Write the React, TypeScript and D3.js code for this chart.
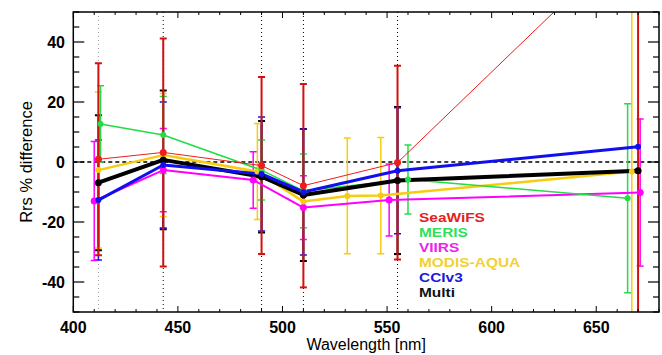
import React from "react";
import * as d3 from "d3";

// ---- data ----
const seawifsWl = [412, 443, 490, 510, 555, 670];
const seawifsMean = [0.9, 3.2, -1.2, -7.9, -0.2, 77];
const seawifsErr = [32, 38, 29.5, 33.9, 32.3, 140];

const merisWl = [413, 443, 490, 510, 560, 665];
const merisMean = [12.7, 9, -2.7, -9.6, -5.8, -12.1];
const merisErr = [12.7, 12.8, 10, 12.3, 11.5, 31.5];

const viirsWl = [410, 443, 486, 510, 551, 671];
const viirsMean = [-13, -2.7, -6, -15.2, -12.7, -10.2];
const viirsErr = [19.8, 13.9, 9.4, 10.6, 12, 24.5];

const modisWl = [412, 443, 488, 510, 531, 547, 667];
const modisMean = [-2.7, 2.3, -3.2, -13.2, -11.3, -11.2, -3.2];
const modisErr = [26, 20.5, 16, 0, 19.3, 19.4, 150];

const cciWl = [412, 443, 490, 510, 555, 670];
const cciMean = [-12.7, -1, -4, -10, -2.9, 5.1];
const cciErr = [20, 21, 19, 21, 21, 0];

const multiWl = [412, 443, 490, 510, 555, 670];
const multiMean = [-6.9, 0.7, -4.9, -11, -6.2, -2.9];
const multiErr = [22.5, 23.1, 18.6, 22, 24.5, 0];

const bandLines = [412, 443, 490, 510, 555, 670];
const xTicks = [400, 450, 500, 550, 600, 650];
const yTicks = [-40, -20, 0, 20, 40];

type Series = {
  name: string; wl: number[]; mean: number[]; err: number[];
  color: string; text: string; lw: number; bw: number; r: number;
};

const series: Series[] = [
  { name: "SeaWiFS", wl: seawifsWl, mean: seawifsMean, err: seawifsErr, color: "#ee1c1c", text: "#e5221f", lw: 1, bw: 2, r: 3.5 },
  { name: "MERIS", wl: merisWl, mean: merisMean, err: merisErr, color: "#22dd44", text: "#2ee05a", lw: 1.5, bw: 1.5, r: 3 },
  { name: "VIIRS", wl: viirsWl, mean: viirsMean, err: viirsErr, color: "#ff00ff", text: "#ee22ee", lw: 2, bw: 1.5, r: 3.5 },
  { name: "MODIS-AQUA", wl: modisWl, mean: modisMean, err: modisErr, color: "#f7cc10", text: "#f2d034", lw: 2.5, bw: 1.5, r: 3 },
  { name: "CCIv3", wl: cciWl, mean: cciMean, err: cciErr, color: "#1010ee", text: "#1a1adb", lw: 3, bw: 1.5, r: 3 },
  { name: "Multi", wl: multiWl, mean: multiMean, err: multiErr, color: "#000000", text: "#111111", lw: 4, bw: 2, r: 3.5 },
];

const W = 662, H = 355;
const L = 73.3, R = 659, T = 12, B = 312;
const x = d3.scaleLinear().domain([400, 680]).range([L, R]);
const y = d3.scaleLinear().domain([-50, 50]).range([B, T]);

const font = "'Liberation Sans', Arial, Helvetica, sans-serif";

export default function App() {
  const xMinor = d3.range(400, 681, 10);
  const yMinor = d3.range(-50, 51, 5);
  const barOrder = ["Multi", "CCIv3", "MODIS-AQUA", "VIIRS", "MERIS", "SeaWiFS"];
  const lineOrder = ["VIIRS", "MODIS-AQUA", "MERIS", "Multi", "CCIv3", "SeaWiFS"];
  const byName = (n: string) => series.find((s) => s.name === n)!;
  const line = (s: Series) =>
    d3.line<number>().x((_, i) => x(s.wl[i])).y((_, i) => y(s.mean[i]))(s.mean) || "";

  return (
    <svg width={W} height={H} style={{ position: "absolute", left: 0, top: 0, background: "#fff" }} fontFamily={font}>
      <defs>
        <clipPath id="plot"><rect x={L} y={T} width={R - L} height={B - T} /></clipPath>
      </defs>
      <rect x={0} y={0} width={W} height={H} fill="#fff" />
      <g clipPath="url(#plot)">
        {bandLines.map((b, i) => (
          <line key={b} x1={x(b)} x2={x(b)} y1={T} y2={B} stroke={i === 0 ? "#999" : "#000"} strokeWidth={1} strokeDasharray="1,3" />
        ))}
        <line x1={L} x2={R} y1={y(0)} y2={y(0)} stroke="#000" strokeWidth={1.3} strokeDasharray="4,3" />
        {barOrder.map((n) => {
          const s = byName(n);
          return (
            <g key={n} stroke={s.name === "SeaWiFS" ? "#d41010" : s.color} strokeWidth={s.bw}>
              {s.wl.map((w, i) => {
                if (!s.err[i]) return null;
                const lo = y(s.mean[i] - s.err[i]);
                const hi = y(s.mean[i] + s.err[i]);
                const cx = x(w);
                return (
                  <g key={i}>
                    <line x1={cx} x2={cx} y1={lo} y2={hi} />
                    <line x1={cx - 3.5} x2={cx + 3.5} y1={lo} y2={lo} />
                    <line x1={cx - 3.5} x2={cx + 3.5} y1={hi} y2={hi} />
                  </g>
                );
              })}
            </g>
          );
        })}
        {lineOrder.map((n) => {
          const s = byName(n);
          return <path key={n} d={line(s)} fill="none" stroke={s.color} strokeWidth={s.lw} strokeLinejoin="round" />;
        })}
        {lineOrder.map((n) => {
          const s = byName(n);
          return (
            <g key={n} fill={s.color}>
              {s.wl.map((w, i) => (
                <circle key={i} cx={x(w)} cy={y(s.mean[i])} r={s.r} />
              ))}
            </g>
          );
        })}
      </g>
      <rect x={L} y={T} width={R - L} height={B - T} fill="none" stroke="#000" strokeWidth={1.5} />
      {xMinor.map((v) => {
        const major = v % 50 === 0;
        const len = major ? 6 : 3;
        return (
          <g key={v} stroke="#000" strokeWidth={1}>
            <line x1={x(v)} x2={x(v)} y1={B} y2={B - len} />
            <line x1={x(v)} x2={x(v)} y1={T} y2={T + len} />
          </g>
        );
      })}
      {yMinor.map((v) => {
        const major = v % 20 === 0;
        const len = major ? 11 : 6;
        return (
          <g key={v} stroke="#000" strokeWidth={1.2}>
            <line x1={L} x2={L + len} y1={y(v)} y2={y(v)} />
            <line x1={R} x2={R - len} y1={y(v)} y2={y(v)} />
          </g>
        );
      })}
      {xTicks.map((v) => (
        <text key={v} x={x(v)} y={333} textAnchor="middle" fontSize={16} fontWeight="bold" fill="#000">{v}</text>
      ))}
      {yTicks.map((v) => (
        <text key={v} x={65} y={y(v)} dy="0.35em" textAnchor="end" fontSize={16} fontWeight="bold" fill="#000">{v}</text>
      ))}
      <text x={(L + R) / 2} y={350} textAnchor="middle" fontSize={16} fill="#000">Wavelength [nm]</text>
      <text transform={`translate(32,${(T + B) / 2}) rotate(-90)`} textAnchor="middle" fontSize={16.5} fill="#000">Rrs % difference</text>
      {series.map((s, i) => (
        <text key={s.name} transform={`translate(419,${221.5 + i * 15}) scale(1.17,1)`} fontSize={13.2} fontWeight="bold" fill={s.text}>{s.name}</text>
      ))}
    </svg>
  );
}
